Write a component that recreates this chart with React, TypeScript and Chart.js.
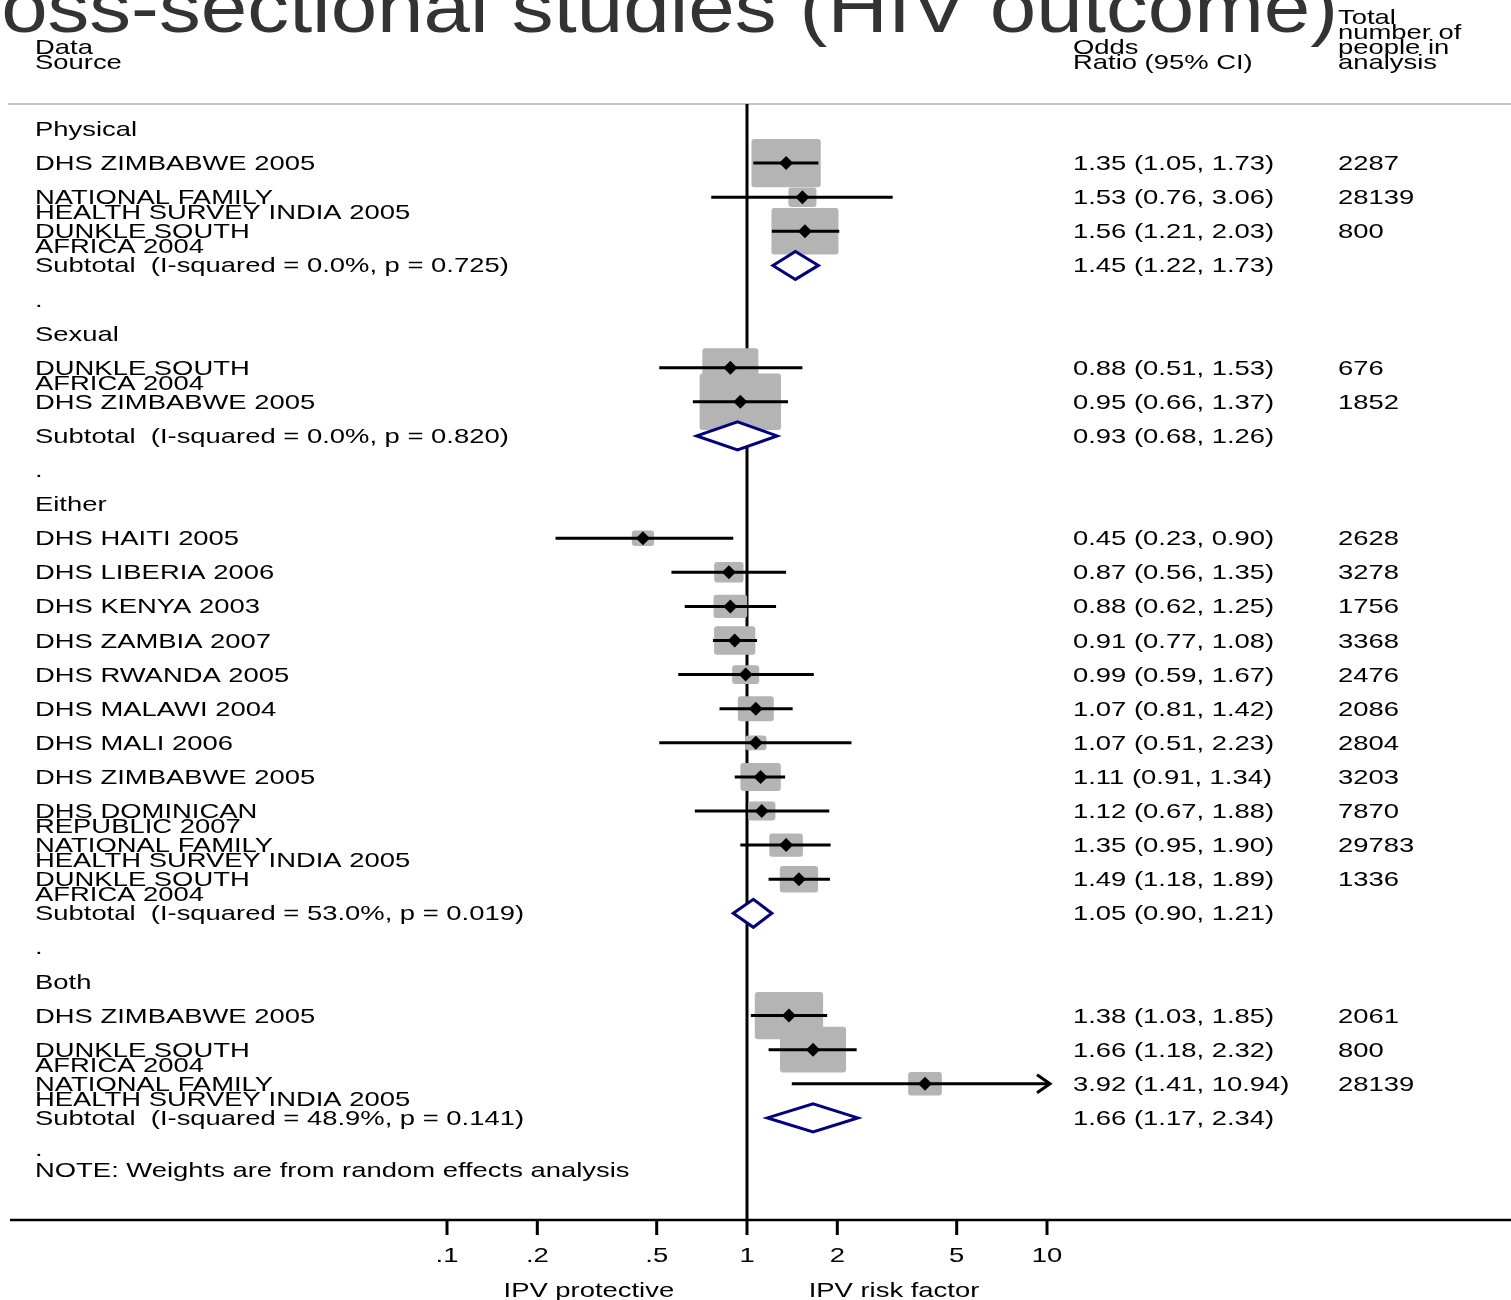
import React, { useEffect, useRef } from "react";
import { Chart, registerables } from "chart.js";

Chart.register(...registerables);

// ---------------- data ----------------
const titleText = "Cross-sectional studies (HIV outcome)";
const headerSource = ["Data", "Source"];
const headerOR = ["Odds", "Ratio (95% CI)"];
const headerN = ["Total", "number of", "people in", "analysis"];

const groupNames = ["Physical", "Sexual", "Either", "Both"];
const groupI2 = [0.0, 0.0, 53.0, 48.9];
const groupP = [0.725, 0.82, 0.019, 0.141];
const groupOR = [1.45, 0.93, 1.05, 1.66];
const groupLow = [1.22, 0.68, 0.9, 1.17];
const groupHigh = [1.73, 1.26, 1.21, 2.34];

const studyGroup = [0, 0, 0, 1, 1, 2, 2, 2, 2, 2, 2, 2, 2, 2, 2, 2, 3, 3, 3];
const studyLabels = [
  "DHS ZIMBABWE 2005",
  "NATIONAL FAMILY\nHEALTH SURVEY INDIA 2005",
  "DUNKLE SOUTH\nAFRICA 2004",
  "DUNKLE SOUTH\nAFRICA 2004",
  "DHS ZIMBABWE 2005",
  "DHS HAITI 2005",
  "DHS LIBERIA 2006",
  "DHS KENYA 2003",
  "DHS ZAMBIA 2007",
  "DHS RWANDA 2005",
  "DHS MALAWI 2004",
  "DHS MALI 2006",
  "DHS ZIMBABWE 2005",
  "DHS DOMINICAN\nREPUBLIC 2007",
  "NATIONAL FAMILY\nHEALTH SURVEY INDIA 2005",
  "DUNKLE SOUTH\nAFRICA 2004",
  "DHS ZIMBABWE 2005",
  "DUNKLE SOUTH\nAFRICA 2004",
  "NATIONAL FAMILY\nHEALTH SURVEY INDIA 2005",
];
const studyOR = [1.35, 1.53, 1.56, 0.88, 0.95, 0.45, 0.87, 0.88, 0.91, 0.99, 1.07, 1.07, 1.11, 1.12, 1.35, 1.49, 1.38, 1.66, 3.92];
const studyLow = [1.05, 0.76, 1.21, 0.51, 0.66, 0.23, 0.56, 0.62, 0.77, 0.59, 0.81, 0.51, 0.91, 0.67, 0.95, 1.18, 1.03, 1.18, 1.41];
const studyHigh = [1.73, 3.06, 2.03, 1.53, 1.37, 0.9, 1.35, 1.25, 1.08, 1.67, 1.42, 2.23, 1.34, 1.88, 1.9, 1.89, 1.85, 2.32, 10.94];
const studyN = [2287, 28139, 800, 676, 1852, 2628, 3278, 1756, 3368, 2476, 2086, 2804, 3203, 7870, 29783, 1336, 2061, 800, 28139];
const studyWeight = [44.5, 7.3, 41.6, 29.1, 61.5, 4.6, 8.0, 10.5, 15.8, 6.8, 12.0, 4.2, 15.1, 6.9, 10.5, 13.6, 43.3, 40.4, 10.5];

const xTickValues = [0.1, 0.2, 0.5, 1, 2, 5, 10];
const xTickLabels = [".1", ".2", ".5", "1", "2", "5", "10"];
const xSideLabels = ["IPV protective", "IPV risk factor"];
const xSideValues = [0.297, 3.09];
const noteText = "NOTE: Weights are from random effects analysis";

// ---------------- layout / style ----------------
const W = 1511;
const H = 1300;
const FONT = '21px "Liberation Sans", Arial, sans-serif';
const TITLE_FONT = '72px "Liberation Sans", Arial, sans-serif';
const SX = 1.305;
const TITLE_SX = 1.16;
const BASE_OFF = 7;
const LINE_GAP = 15;
const HEADER_BASE = 69;
const HEADER_RULE_Y = 104;
const AXIS_Y = 1220;
const LABEL_X = 35;
const OR_X = 1073;
const N_X = 1338;
const BOX_K = 7.21;
const BOX_ASPECT = 1.44;
const BOX_COLOR = "#b4b4b4";
const DIAMOND_COLOR = "#000080";
const DIAMOND_HALF = 14;

// row assignment (index of line in the table)
type Row = { kind: string; row: number; idx: number };
const rows: Row[] = [];
(() => {
  let r = 0;
  groupNames.forEach((_, g) => {
    rows.push({ kind: "heading", row: r++, idx: g });
    studyGroup.forEach((sg, i) => {
      if (sg === g) rows.push({ kind: "study", row: r++, idx: i });
    });
    rows.push({ kind: "subtotal", row: r++, idx: g });
    if (g < groupNames.length - 1) rows.push({ kind: "dot", row: r++, idx: g });
  });
  rows.push({ kind: "note", row: r++, idx: 0 });
})();

const ROW0_PX = 129;
const ROW_PX = 34.1;
const Y_MIN = -ROW0_PX / ROW_PX;
const Y_MAX = Y_MIN + H / ROW_PX;
const X_MIN = Math.pow(10, -747 / 300);
const X_MAX = Math.pow(10, (W - 747) / 300);
const X_CLIP = xTickValues[xTickValues.length - 1];

function fmt(or: number, lo: number, hi: number) {
  return `${or.toFixed(2)} (${lo.toFixed(2)}, ${hi.toFixed(2)})`;
}

function text(ctx: CanvasRenderingContext2D, s: string, x: number, y: number, align: CanvasTextAlign = "left", font = FONT, sx = SX, color = "#000") {
  ctx.save();
  ctx.font = font;
  ctx.fillStyle = color;
  ctx.textAlign = align;
  ctx.textBaseline = "alphabetic";
  ctx.translate(x, y);
  ctx.scale(sx, 1);
  ctx.fillText(s, 0, 0);
  ctx.restore();
}

function seg(ctx: CanvasRenderingContext2D, x1: number, y1: number, x2: number, y2: number) {
  ctx.beginPath();
  ctx.moveTo(x1, y1);
  ctx.lineTo(x2, y2);
  ctx.stroke();
}

const forestPlugin = {
  id: "forest",
  beforeDatasetsDraw(chart: any) {
    const ctx: CanvasRenderingContext2D = chart.ctx;
    const xs = chart.scales.x;
    const ys = chart.scales.y;
    ctx.save();
    ctx.lineCap = "butt";
    // header rule
    ctx.strokeStyle = "#c4c4c4";
    ctx.lineWidth = 2;
    seg(ctx, 8, HEADER_RULE_Y, W, HEADER_RULE_Y);
    // null line
    const x1 = xs.getPixelForValue(1);
    ctx.strokeStyle = "#000";
    ctx.lineWidth = 3;
    seg(ctx, x1, HEADER_RULE_Y, x1, AXIS_Y);
    // axis
    ctx.lineWidth = 2.5;
    seg(ctx, 10, AXIS_Y, W, AXIS_Y);
    ctx.lineWidth = 3;
    xTickValues.forEach((v) => {
      const px = xs.getPixelForValue(v);
      seg(ctx, px, AXIS_Y, px, AXIS_Y + 15);
    });
    // boxes
    ctx.fillStyle = BOX_COLOR;
    rows.forEach((r) => {
      if (r.kind !== "study") return;
      const i = r.idx;
      const cx = xs.getPixelForValue(studyOR[i]);
      const cy = ys.getPixelForValue(r.row);
      const h = BOX_K * Math.sqrt(studyWeight[i]);
      const w = h * BOX_ASPECT;
      ctx.beginPath();
      if ((ctx as any).roundRect) (ctx as any).roundRect(cx - w / 2, cy - h / 2, w, h, 3);
      else ctx.rect(cx - w / 2, cy - h / 2, w, h);
      ctx.fill();
    });
    // subtotal diamonds
    rows.forEach((r) => {
      if (r.kind !== "subtotal") return;
      const g = r.idx;
      const cy = ys.getPixelForValue(r.row);
      const xl = xs.getPixelForValue(groupLow[g]);
      const xm = xs.getPixelForValue(groupOR[g]);
      const xh = xs.getPixelForValue(groupHigh[g]);
      ctx.beginPath();
      ctx.moveTo(xl, cy);
      ctx.lineTo(xm, cy - DIAMOND_HALF);
      ctx.lineTo(xh, cy);
      ctx.lineTo(xm, cy + DIAMOND_HALF);
      ctx.closePath();
      ctx.fillStyle = "#fff";
      ctx.fill();
      ctx.strokeStyle = DIAMOND_COLOR;
      ctx.lineWidth = 3;
      ctx.lineJoin = "miter";
      ctx.stroke();
    });
    // CI lines
    ctx.strokeStyle = "#000";
    ctx.lineWidth = 3;
    rows.forEach((r) => {
      if (r.kind !== "study") return;
      const i = r.idx;
      const cy = ys.getPixelForValue(r.row);
      const xl = xs.getPixelForValue(studyLow[i]);
      const clipped = studyHigh[i] > X_CLIP;
      const xh = xs.getPixelForValue(clipped ? X_CLIP : studyHigh[i]);
      if (clipped) {
        const tip = xh + 3;
        seg(ctx, xl, cy, tip, cy);
        ctx.beginPath();
        ctx.moveTo(tip - 13, cy - 9);
        ctx.lineTo(tip, cy);
        ctx.lineTo(tip - 13, cy + 9);
        ctx.stroke();
      } else {
        seg(ctx, xl, cy, xh, cy);
      }
    });
    ctx.restore();
  },
  afterDraw(chart: any) {
    const ctx: CanvasRenderingContext2D = chart.ctx;
    const xs = chart.scales.x;
    const ys = chart.scales.y;
    // title (cut by top edge)
    text(ctx, titleText, 1338, 32, "right", TITLE_FONT, TITLE_SX, "#333333");
    // headers
    headerSource.forEach((s, k) => text(ctx, s, LABEL_X, HEADER_BASE - (headerSource.length - 1 - k) * LINE_GAP));
    headerOR.forEach((s, k) => text(ctx, s, OR_X, HEADER_BASE - (headerOR.length - 1 - k) * LINE_GAP));
    headerN.forEach((s, k) => text(ctx, s, N_X, HEADER_BASE - (headerN.length - 1 - k) * LINE_GAP));
    // rows
    rows.forEach((r) => {
      const by = ys.getPixelForValue(r.row) + BASE_OFF;
      if (r.kind === "heading") {
        text(ctx, groupNames[r.idx], LABEL_X, by);
      } else if (r.kind === "study") {
        const i = r.idx;
        studyLabels[i].split("\n").forEach((ln, k) => text(ctx, ln, LABEL_X, by + k * LINE_GAP));
        text(ctx, fmt(studyOR[i], studyLow[i], studyHigh[i]), OR_X, by);
        text(ctx, String(studyN[i]), N_X, by);
      } else if (r.kind === "subtotal") {
        const g = r.idx;
        text(ctx, `Subtotal  (I-squared = ${groupI2[g].toFixed(1)}%, p = ${groupP[g].toFixed(3)})`, LABEL_X, by);
        text(ctx, fmt(groupOR[g], groupLow[g], groupHigh[g]), OR_X, by);
      } else if (r.kind === "dot") {
        text(ctx, ".", LABEL_X, by);
      } else if (r.kind === "note") {
        text(ctx, ".", LABEL_X, by - 3);
        text(ctx, noteText, LABEL_X, by + 18);
      }
    });
    // axis labels
    xTickValues.forEach((v, k) => text(ctx, xTickLabels[k], xs.getPixelForValue(v), 1262, "center"));
    xSideLabels.forEach((s, k) => text(ctx, s, xs.getPixelForValue(xSideValues[k]), 1297, "center"));
  },
};

export default function App() {
  const ref = useRef<HTMLCanvasElement | null>(null);
  useEffect(() => {
    if (!ref.current) return;
    const pts = rows
      .filter((r) => r.kind === "study")
      .map((r) => ({ x: studyOR[r.idx], y: r.row }));
    const chart = new Chart(ref.current, {
      type: "scatter",
      data: {
        datasets: [
          {
            data: pts,
            pointStyle: "rectRot",
            pointRadius: 7,
            pointHoverRadius: 7,
            backgroundColor: "#000",
            borderColor: "#000",
            borderWidth: 0,
            clip: false,
          },
        ],
      },
      options: {
        responsive: false,
        maintainAspectRatio: false,
        animation: false,
        events: [],
        layout: { padding: 0, autoPadding: false },
        plugins: { legend: { display: false }, tooltip: { enabled: false }, title: { display: false } },
        scales: {
          x: { type: "logarithmic", display: false, min: X_MIN, max: X_MAX, bounds: "data" },
          y: { type: "linear", display: false, reverse: true, min: Y_MIN, max: Y_MAX, bounds: "data" },
        },
      } as any,
      plugins: [forestPlugin],
    });
    return () => chart.destroy();
  }, []);
  return (
    <div style={{ position: "absolute", left: 0, top: 0, width: W, height: H, background: "#fff" }}>
      <canvas ref={ref} width={W} height={H} style={{ display: "block", width: W, height: H }} />
    </div>
  );
}
